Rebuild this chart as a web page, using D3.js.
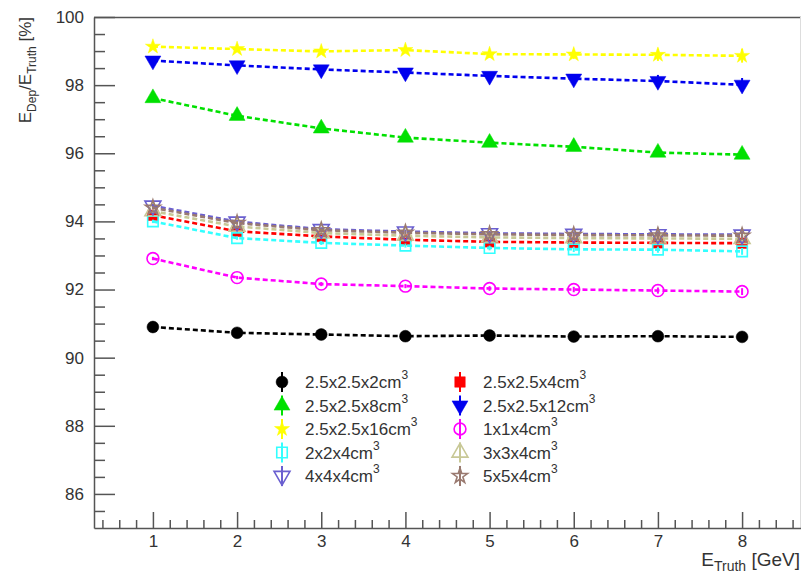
<!DOCTYPE html>
<html>
<head>
<meta charset="utf-8">
<script src="https://cdn.jsdelivr.net/npm/d3@7"></script>
<style>
  body { margin: 0; background: #fff; }
  text { font-family: "Liberation Sans", Arial, sans-serif; fill: #333; }
</style>
</head>
<body>
<div id="chart"></div>
<script>
// beam energies [GeV]
const energies = [1, 2, 3, 4, 5, 6, 7, 8];

// E_Dep / E_Truth [%] for each crystal size
const cell_2_5x2_5x2  = [90.90, 90.73, 90.68, 90.63, 90.65, 90.62, 90.63, 90.61];
const cell_2_5x2_5x4  = [94.18, 93.71, 93.56, 93.46, 93.40, 93.38, 93.37, 93.36];
const cell_2_5x2_5x8  = [97.62, 97.10, 96.73, 96.46, 96.31, 96.19, 96.02, 95.96];
const cell_2_5x2_5x12 = [98.72, 98.58, 98.46, 98.37, 98.27, 98.19, 98.12, 98.01];
const cell_2_5x2_5x16 = [99.13, 99.06, 98.99, 99.03, 98.91, 98.90, 98.89, 98.86];
const cell_1x1x4      = [92.91, 92.35, 92.16, 92.10, 92.03, 92.00, 91.97, 91.94];
const cell_2x2x4      = [94.00, 93.51, 93.37, 93.29, 93.22, 93.18, 93.17, 93.12];
const cell_3x3x4      = [94.30, 93.85, 93.66, 93.58, 93.53, 93.51, 93.50, 93.49];
const cell_4x4x4      = [94.46, 93.99, 93.77, 93.70, 93.65, 93.63, 93.62, 93.61];
const cell_5x5x4      = [94.40, 93.95, 93.74, 93.67, 93.62, 93.60, 93.59, 93.58];

// statistical errors [%]
const err_small = [0.05, 0.05, 0.06, 0.06, 0.07, 0.08, 0.09, 0.10];
const err_large = [0.06, 0.07, 0.08, 0.10, 0.11, 0.13, 0.18, 0.20];

const yTicks = [86, 88, 90, 92, 94, 96, 98, 100];
const xTicks = [1, 2, 3, 4, 5, 6, 7, 8];

const series = [
  {name: "2.5x2.5x2",  values: cell_2_5x2_5x2,  errors: err_small, color: "#000000", symbol: d3.symbolCircle,   fill: true},
  {name: "2.5x2.5x4",  values: cell_2_5x2_5x4,  errors: err_small, color: "#ff0000", symbol: d3.symbolSquare,   fill: true},
  {name: "2.5x2.5x8",  values: cell_2_5x2_5x8,  errors: err_small, color: "#00e000", symbol: d3.symbolTriangle, fill: true},
  {name: "2.5x2.5x12", values: cell_2_5x2_5x12, errors: err_large, color: "#0000ee", symbol: d3.symbolTriangle, fill: true, flip: true},
  {name: "2.5x2.5x16", values: cell_2_5x2_5x16, errors: err_large, color: "#ffff00", symbol: d3.symbolStar,     fill: true},
  {name: "1x1x4",      values: cell_1x1x4,      errors: err_small, color: "#ff00ff", symbol: d3.symbolCircle,   fill: false},
  {name: "2x2x4",      values: cell_2x2x4,      errors: err_small, color: "#33ffff", symbol: d3.symbolSquare,   fill: false},
  {name: "3x3x4",      values: cell_3x3x4,      errors: err_small, color: "#c8c896", symbol: d3.symbolTriangle, fill: false},
  {name: "4x4x4",      values: cell_4x4x4,      errors: err_small, color: "#6a5fd0", symbol: d3.symbolTriangle, fill: false, flip: true},
  {name: "5x5x4",      values: cell_5x5x4,      errors: err_small, color: "#9a7a70", symbol: d3.symbolStar,     fill: false}
];

const width = 801, height = 574;
const frame = {left: 94, right: 801, top: 17, bottom: 528};

const svg = d3.select("#chart").append("svg")
    .attr("width", width)
    .attr("height", height);

const x = d3.scaleLinear().domain([0.3, 8.7]).range([frame.left, frame.right]);
const y = d3.scaleLinear().domain([85, 100]).range([frame.bottom, frame.top]);

// frame top / right
svg.append("line")
    .attr("x1", frame.left).attr("x2", frame.right)
    .attr("y1", frame.top + 0.5).attr("y2", frame.top + 0.5)
    .attr("stroke", "#555").attr("stroke-width", 1.5);
svg.append("line")
    .attr("x1", frame.right - 0.5).attr("x2", frame.right - 0.5)
    .attr("y1", frame.top).attr("y2", frame.bottom)
    .attr("stroke", "#ddd").attr("stroke-width", 1);

// minor ticks
const yMinor = d3.range(85.5, 100, 0.5).filter(v => v % 2 !== 0);
const xMinor = d3.range(0.4, 8.7, 0.2).filter(v => Math.abs(v - Math.round(v)) > 0.01);

svg.append("g")
    .attr("transform", `translate(${frame.left},0)`)
    .call(d3.axisLeft(y).tickValues(yMinor).tickSize(-11).tickFormat(""))
    .call(g => g.select(".domain").remove())
    .selectAll("line").attr("stroke", "#555").attr("stroke-width", 1.5);

svg.append("g")
    .attr("transform", `translate(0,${frame.bottom})`)
    .call(d3.axisBottom(x).tickValues(xMinor).tickSize(-8).tickFormat(""))
    .call(g => g.select(".domain").remove())
    .selectAll("line").attr("stroke", "#555").attr("stroke-width", 1.5);

// major ticks + labels
const yAxis = svg.append("g")
    .attr("transform", `translate(${frame.left},0)`)
    .call(d3.axisLeft(y).tickValues(yTicks).tickSize(-21).tickSizeOuter(0).tickPadding(10));
yAxis.select(".domain").attr("stroke", "#555").attr("stroke-width", 1.5);
yAxis.selectAll("line").attr("stroke", "#555").attr("stroke-width", 1.5);
yAxis.selectAll("text").attr("font-size", 17).attr("font-family", "Liberation Sans").attr("fill", "#333");

const xAxis = svg.append("g")
    .attr("transform", `translate(0,${frame.bottom})`)
    .call(d3.axisBottom(x).tickValues(xTicks).tickSize(-16).tickSizeOuter(0).tickPadding(7));
xAxis.select(".domain").attr("stroke", "#555").attr("stroke-width", 1.5);
xAxis.selectAll("line").attr("stroke", "#555").attr("stroke-width", 1.5);
xAxis.selectAll("text").attr("font-size", 17).attr("font-family", "Liberation Sans").attr("fill", "#333");

// axis titles
const yTitle = svg.append("text")
    .attr("transform", `translate(31,${frame.top}) rotate(-90)`)
    .attr("text-anchor", "end")
    .attr("font-size", 17);
yTitle.append("tspan").text("E");
yTitle.append("tspan").attr("font-size", 12).attr("dy", 5).text("Dep");
yTitle.append("tspan").attr("dy", -5).text("/E");
yTitle.append("tspan").attr("font-size", 12).attr("dy", 5).text("Truth");
yTitle.append("tspan").attr("dy", -5).text(" [%]");

const xTitle = svg.append("text")
    .attr("x", 800).attr("y", 566)
    .attr("text-anchor", "end")
    .attr("font-size", 19);
xTitle.append("tspan").text("E");
xTitle.append("tspan").attr("font-size", 14).attr("dy", 5).text("Truth");
xTitle.append("tspan").attr("dy", -5).text(" [GeV]");

// markers
function marker(g, s, size) {
    g.append("path")
        .attr("d", d3.symbol().type(s.symbol).size(size)())
        .attr("transform", s.flip ? "rotate(180)" : null)
        .attr("fill", s.fill ? s.color : "#fff")
        .attr("fill-opacity", s.fill ? 1 : 0)
        .attr("stroke", s.color)
        .attr("stroke-width", s.fill ? 0.5 : 1.6);
}

const line = d3.line()
    .x((d, i) => x(energies[i]))
    .y(d => y(d));

series.forEach(s => {
    const g = svg.append("g");
    g.append("path")
        .datum(s.values)
        .attr("d", line)
        .attr("fill", "none")
        .attr("stroke", s.color)
        .attr("stroke-width", 2.6)
        .attr("stroke-dasharray", "5,3");

    g.selectAll(".err")
        .data(s.values)
        .join("line")
        .attr("x1", (d, i) => x(energies[i]))
        .attr("x2", (d, i) => x(energies[i]))
        .attr("y1", (d, i) => y(d - s.errors[i]))
        .attr("y2", (d, i) => y(d + s.errors[i]))
        .attr("stroke", s.color)
        .attr("stroke-width", 2);

    s.values.forEach((v, i) => {
        const m = g.append("g").attr("transform", `translate(${x(energies[i])},${y(v)})`);
        marker(m, s, s.symbol === d3.symbolStar ? 70 : 110);
    });
});

// legend
const legend = svg.append("g");
series.forEach((s, i) => {
    const col = i % 2, row = Math.floor(i / 2);
    const lx = col === 0 ? 282 : 460;
    const ly = 382 + row * 23.5;
    const item = legend.append("g").attr("transform", `translate(${lx},${ly})`);
    item.append("line")
        .attr("y1", -10).attr("y2", 10)
        .attr("stroke", s.color).attr("stroke-width", 2);
    marker(item, s, s.symbol === d3.symbolStar ? 70 : 110);
    const t = item.append("text")
        .attr("x", 23).attr("y", 6)
        .attr("font-size", 17);
    t.append("tspan").text(s.name + "cm");
    t.append("tspan").attr("font-size", 12).attr("dy", -9).text("3");
});
</script>
</body>
</html>
